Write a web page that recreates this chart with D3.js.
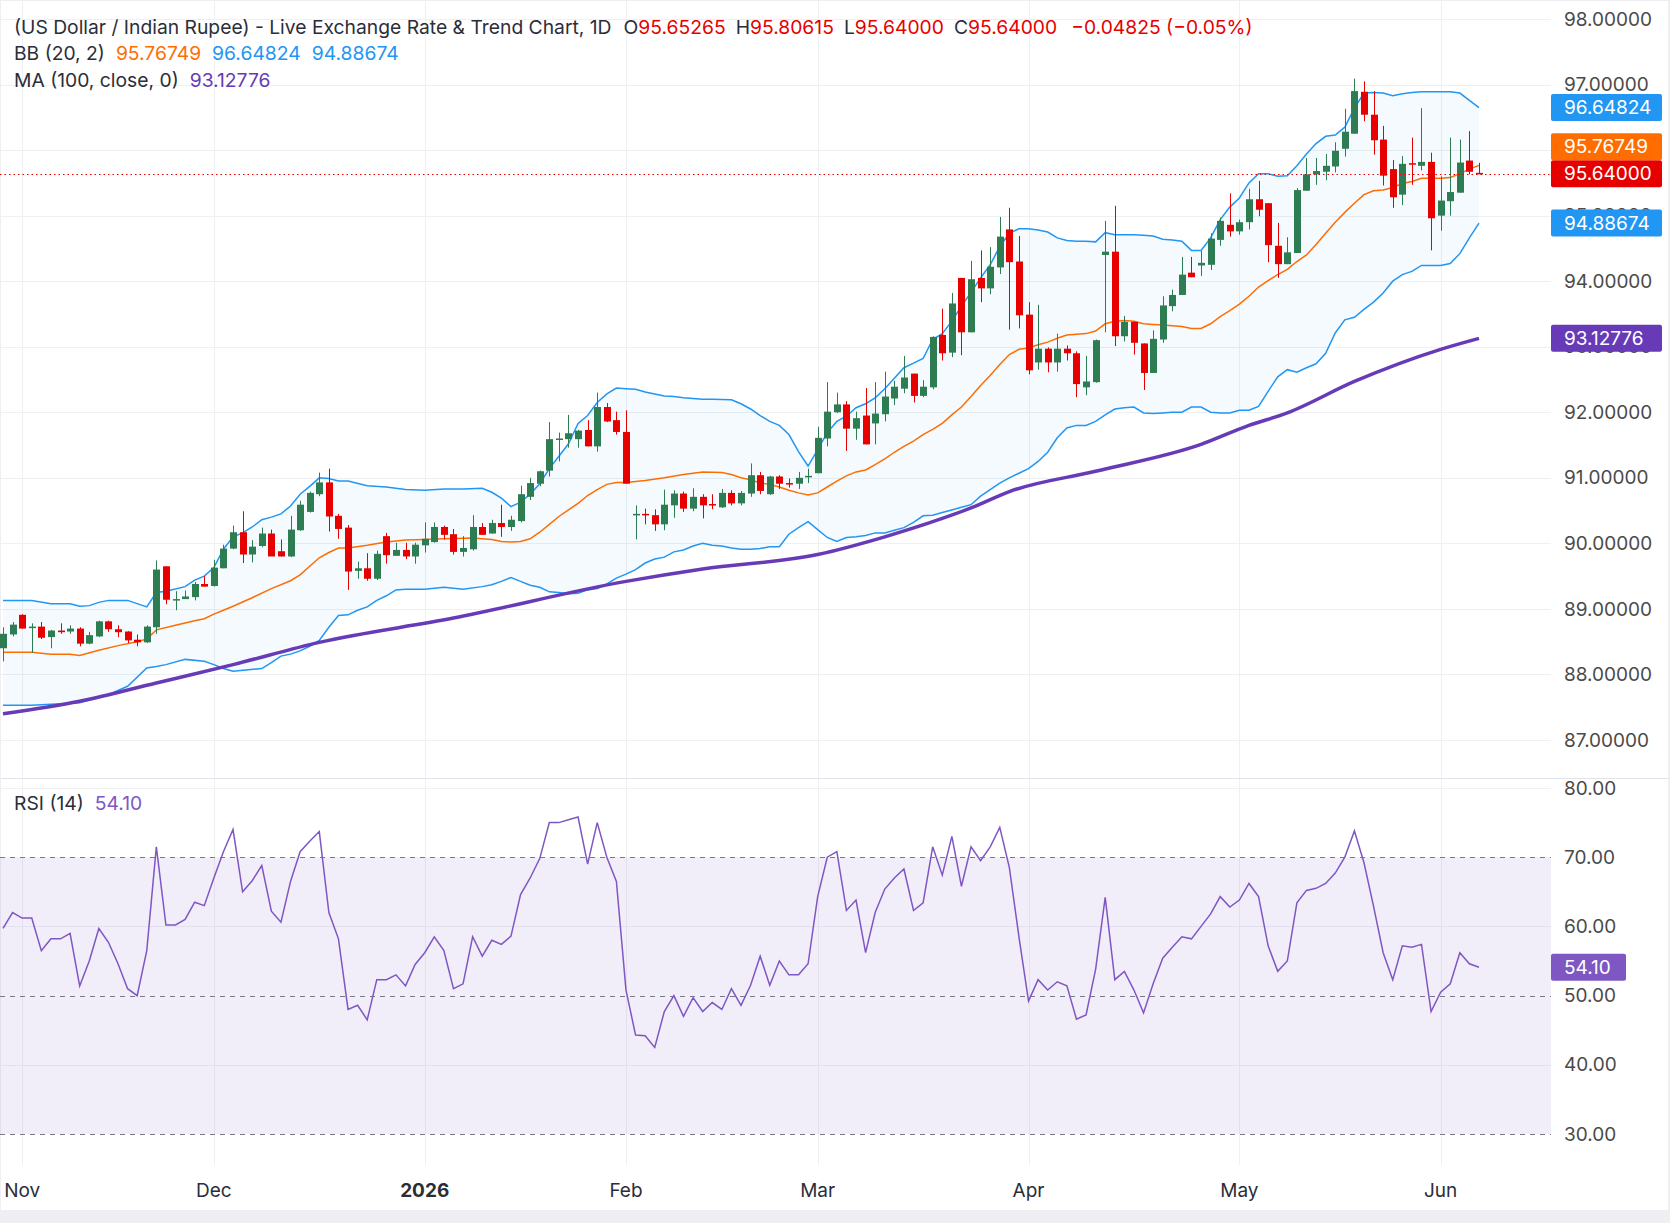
<!DOCTYPE html>
<html>
<head>
<meta charset="utf-8">
<script src="https://cdn.jsdelivr.net/npm/d3@7"></script>
<style>
  body { margin: 0; background: #eeeef3; }
  svg { display: block; font-family: Inter, "Noto Sans", sans-serif; }
</style>
</head>
<body>
<svg id="chart" width="1670" height="1223"></svg>
<script>
// ---- data ----
// daily candles, [open, high, low, close], Oct 30 2025 .. Jun 5 2026
const candles = [
  [88.40,88.72,88.20,88.62],[88.61,88.80,88.58,88.76],[88.91,88.92,88.70,88.70],[88.72,88.78,88.33,88.73],
  [88.73,88.80,88.54,88.56],[88.57,88.68,88.40,88.67],[88.67,88.78,88.62,88.645],[88.655,88.75,88.62,88.70],
  [88.70,88.72,88.43,88.47],[88.47,88.65,88.46,88.60],[88.58,88.82,88.57,88.81],[88.81,88.82,88.65,88.69],
  [88.69,88.75,88.57,88.645],[88.655,88.66,88.48,88.52],[88.53,88.61,88.43,88.49],[88.49,88.75,88.48,88.73],
  [88.72,89.74,88.62,89.60],[89.65,89.65,89.07,89.14],[89.14,89.27,88.98,89.15],[89.15,89.28,89.15,89.19],
  [89.18,89.41,89.13,89.38],[89.38,89.50,89.34,89.34],[89.35,89.75,89.34,89.63],[89.62,89.98,89.62,89.92],
  [89.92,90.27,89.91,90.17],[90.17,90.49,89.70,89.83],[89.83,90.05,89.71,89.95],[89.96,90.24,89.94,90.15],
  [90.15,90.21,89.81,89.80],[89.88,90.06,89.80,89.80],[89.80,90.42,89.79,90.21],[90.20,90.65,90.19,90.59],
  [90.48,90.79,90.47,90.77],[90.75,91.08,90.72,90.93],[90.93,91.14,90.18,90.41],[90.42,90.45,90.07,90.22],
  [90.24,90.28,89.29,89.57],[89.58,89.72,89.46,89.62],[89.62,89.85,89.43,89.46],[89.46,89.89,89.44,89.84],
  [90.11,90.16,89.69,89.82],[89.81,90.01,89.81,89.90],[89.90,90.01,89.76,89.80],[89.80,90.01,89.69,89.98],
  [89.97,90.32,89.86,90.07],[90.02,90.32,90.01,90.25],[90.25,90.27,90.06,90.13],[90.14,90.22,89.83,89.87],
  [89.87,90.11,89.80,89.93],[89.91,90.43,89.89,90.25],[90.25,90.31,90.13,90.13],[90.15,90.36,90.15,90.31],
  [90.31,90.59,90.10,90.25],[90.25,90.42,90.19,90.36],[90.34,90.88,90.32,90.75],[90.71,91.00,90.66,90.92],
  [90.91,91.11,90.87,91.10],[91.11,91.85,91.02,91.59],[91.59,91.69,91.25,91.60],[91.59,91.96,91.46,91.68],
  [91.59,91.73,91.46,91.72],[91.73,91.88,91.48,91.48],[91.48,92.30,91.40,92.08],[92.08,92.14,91.85,91.86],
  [91.88,92.01,91.66,91.70],[91.70,92.03,90.91,90.91],[90.44,90.58,90.06,90.45],[90.45,90.53,90.29,90.44],
  [90.43,90.52,90.19,90.29],[90.29,90.82,90.20,90.59],[90.58,90.81,90.39,90.76],[90.76,90.79,90.48,90.53],
  [90.53,90.84,90.49,90.71],[90.71,90.75,90.38,90.58],[90.60,90.75,90.52,90.58],[90.55,90.83,90.54,90.77],
  [90.77,90.81,90.58,90.61],[90.61,90.80,90.58,90.77],[90.76,91.22,90.71,91.04],[91.04,91.09,90.75,90.80],
  [90.75,91.03,90.74,91.02],[91.02,91.04,90.83,90.91],[90.92,90.99,90.85,90.91],[90.91,91.09,90.83,91.00],
  [91.02,91.14,90.92,91.03],[91.07,91.78,91.07,91.61],[91.60,92.46,91.48,92.01],[92.00,92.30,91.99,92.12],
  [92.12,92.17,91.41,91.75],[91.75,92.01,91.58,91.91],[91.95,92.37,91.51,91.51],[91.83,92.46,91.51,91.98],
  [91.97,92.62,91.86,92.24],[92.21,92.48,92.11,92.39],[92.36,92.86,92.29,92.53],[92.59,92.59,92.15,92.25],
  [92.25,92.49,92.23,92.39],[92.38,93.16,92.35,93.15],[93.18,93.58,92.79,92.90],[92.91,93.82,92.84,93.66],
  [94.05,94.05,92.87,93.22],[93.22,94.31,93.22,94.03],[94.05,94.47,93.68,93.89],[93.89,94.52,93.80,94.22],
  [94.21,94.98,94.11,94.68],[94.79,95.12,93.26,94.29],[94.30,94.69,93.28,93.48],[93.49,93.68,92.58,92.64],
  [92.76,93.64,92.65,92.97],[92.97,92.99,92.61,92.76],[92.76,93.20,92.62,92.97],[92.97,93.02,92.79,92.90],
  [92.90,92.93,92.23,92.43],[92.38,92.86,92.26,92.47],[92.46,93.11,92.45,93.10],[94.40,94.92,93.22,94.45],
  [94.45,95.15,93.01,93.16],[93.16,93.47,93.08,93.38],[93.38,93.38,92.88,93.06],[93.05,93.05,92.34,92.60],
  [92.60,93.25,92.60,93.12],[93.11,93.77,93.06,93.63],[93.62,93.87,93.54,93.79],[93.79,94.37,93.79,94.10],
  [94.13,94.37,94.06,94.06],[94.24,94.46,94.08,94.28],[94.25,94.73,94.17,94.65],[94.63,94.97,94.54,94.92],
  [94.86,95.34,94.68,94.76],[94.76,94.94,94.71,94.90],[94.90,95.41,94.79,95.25],[95.25,95.53,94.99,95.09],
  [95.19,95.19,94.29,94.55],[94.54,94.89,94.05,94.26],[94.26,94.67,94.26,94.44],[94.43,95.42,94.43,95.39],
  [95.38,95.88,95.38,95.63],[95.63,95.88,95.47,95.68],[95.67,95.94,95.54,95.76],[95.75,96.12,95.66,95.99],
  [96.02,96.63,95.90,96.28],[96.25,97.09,96.25,96.90],[96.89,97.05,96.44,96.54],[96.54,96.90,95.93,96.15],
  [96.16,96.37,95.46,95.61],[95.71,95.85,95.12,95.28],[95.32,95.91,95.16,95.79],[95.80,96.19,95.47,95.78],
  [95.76,96.64,95.69,95.82],[95.82,95.96,94.47,94.96],[95.00,95.60,94.77,95.23],[95.22,96.19,95.00,95.36],
  [95.35,96.16,95.35,95.81],[95.84,96.29,95.63,95.67],[95.65265,95.80615,95.64,95.64]
];

// Bollinger band lines, [bar, value]
const bbUpper = [
  [0,89.13],[3,89.13],[5,89.08],[7,89.08],[8,89.04],[9,89.05],[10,89.10],[11,89.13],[13,89.13],[14,89.08],
  [15,89.03],[16,89.25],[17,89.27],[19,89.34],[20,89.44],[21,89.50],[22,89.63],[23,89.91],[24,90.10],[25,90.16],
  [26,90.25],[27,90.36],[28,90.40],[29,90.45],[30,90.57],[31,90.75],[32,90.87],[33,91.00],[34,90.99],[35,90.95],
  [36,90.95],[38,90.88],[40,90.86],[42,90.82],[44,90.81],[46,90.83],[48,90.83],[50,90.84],[51,90.78],[52,90.69],
  [53,90.56],[54,90.63],[55,90.75],[56,90.91],[57,91.14],[58,91.33],[59,91.52],[60,91.83],[61,91.95],[62,92.15],
  [63,92.28],[64,92.37],[65,92.36],[66,92.35],[67,92.31],[68,92.28],[69,92.25],[70,92.24],[71,92.22],[72,92.21],
  [73,92.20],[74,92.20],[76,92.19],[77,92.13],[78,92.05],[79,91.95],[80,91.86],[81,91.80],[82,91.66],[83,91.40],
  [84,91.18],[85,91.43],[86,91.69],[87,91.86],[88,91.94],[89,92.07],[90,92.13],[91,92.22],[92,92.36],[93,92.52],
  [94,92.68],[95,92.75],[96,92.82],[97,93.11],[98,93.20],[99,93.39],[100,93.62],[101,93.83],[102,94.05],[103,94.25],
  [104,94.53],[105,94.73],[106,94.80],[107,94.80],[108,94.78],[109,94.75],[110,94.66],[111,94.62],[112,94.61],[113,94.61],
  [114,94.60],[115,94.74],[116,94.71],[117,94.71],[118,94.71],[119,94.70],[120,94.69],[121,94.64],[122,94.63],[123,94.61],
  [124,94.47],[125,94.47],[126,94.66],[127,94.94],[128,95.13],[129,95.27],[130,95.50],[131,95.64],[132,95.64],[133,95.60],
  [134,95.61],[135,95.76],[136,95.94],[137,96.10],[138,96.21],[139,96.23],[140,96.35],[141,96.64],[142,96.87],[143,96.88],
  [144,96.87],[145,96.83],[146,96.86],[147,96.88],[148,96.89],[149,96.89],[150,96.89],[151,96.89],[152,96.87],[153,96.76],
  [154,96.64824]
];
const bbMiddle = [
  [0,88.34],[3,88.34],[5,88.31],[7,88.31],[8,88.29],[10,88.37],[12,88.44],[14,88.50],[15,88.54],[16,88.68],
  [18,88.75],[20,88.82],[21,88.85],[22,88.92],[23,88.98],[24,89.04],[26,89.17],[28,89.31],[30,89.43],[31,89.52],
  [32,89.65],[33,89.78],[34,89.86],[35,89.93],[36,89.93],[38,89.97],[40,90.02],[42,90.05],[44,90.06],[46,90.07],
  [49,90.08],[51,90.06],[52,90.03],[53,90.02],[54,90.03],[55,90.07],[56,90.17],[57,90.29],[58,90.41],[59,90.51],
  [60,90.61],[61,90.73],[62,90.82],[63,90.90],[64,90.93],[65,90.93],[67,90.96],[69,91.00],[71,91.05],[73,91.09],
  [75,91.08],[76,91.05],[77,91.00],[78,90.97],[79,90.92],[80,90.90],[81,90.86],[82,90.81],[83,90.77],[84,90.74],
  [85,90.77],[86,90.86],[87,90.95],[88,91.03],[89,91.09],[90,91.12],[91,91.20],[92,91.29],[93,91.39],[94,91.48],
  [95,91.56],[96,91.66],[97,91.74],[98,91.83],[99,91.96],[100,92.08],[101,92.24],[102,92.41],[103,92.56],[104,92.73],
  [105,92.88],[106,92.96],[107,92.98],[108,93.03],[109,93.07],[110,93.13],[111,93.18],[112,93.19],[113,93.20],[114,93.24],
  [115,93.35],[116,93.39],[117,93.40],[118,93.39],[119,93.35],[120,93.34],[121,93.33],[122,93.32],[123,93.31],[124,93.28],
  [125,93.28],[126,93.35],[127,93.46],[128,93.55],[129,93.65],[130,93.77],[131,93.91],[132,94.01],[133,94.10],[134,94.18],
  [135,94.30],[136,94.40],[137,94.56],[138,94.73],[139,94.90],[140,95.05],[141,95.19],[142,95.32],[143,95.38],[144,95.39],
  [145,95.43],[146,95.49],[147,95.52],[148,95.57],[149,95.57],[150,95.57],[151,95.58],[152,95.64],[153,95.71],[154,95.76749]
];
const bbLower = [
  [0,87.53],[3,87.53],[8,87.57],[11,87.69],[13,87.82],[15,88.10],[16,88.12],[17,88.15],[19,88.23],[21,88.20],
  [22,88.15],[23,88.09],[24,88.05],[27,88.09],[28,88.18],[29,88.28],[30,88.31],[31,88.36],[32,88.43],[33,88.52],
  [34,88.72],[35,88.90],[36,88.91],[37,88.98],[38,89.03],[39,89.13],[40,89.20],[41,89.29],[42,89.30],[44,89.30],
  [46,89.33],[48,89.30],[50,89.34],[51,89.37],[52,89.42],[53,89.48],[54,89.42],[55,89.36],[56,89.33],[57,89.26],
  [58,89.25],[59,89.23],[60,89.24],[61,89.29],[62,89.31],[63,89.38],[64,89.47],[65,89.53],[66,89.60],[67,89.70],
  [68,89.76],[69,89.79],[70,89.87],[71,89.90],[72,89.96],[73,90.00],[74,89.97],[75,89.96],[76,89.93],[77,89.91],
  [78,89.91],[79,89.92],[80,89.95],[81,89.95],[82,90.14],[83,90.24],[84,90.33],[85,90.21],[86,90.09],[87,90.03],
  [88,90.09],[89,90.10],[90,90.12],[91,90.16],[92,90.16],[93,90.20],[94,90.24],[95,90.32],[96,90.42],[97,90.43],
  [98,90.47],[99,90.51],[100,90.55],[101,90.59],[102,90.72],[103,90.82],[104,90.92],[105,91.00],[106,91.07],[107,91.14],
  [108,91.25],[109,91.39],[110,91.61],[111,91.76],[112,91.80],[113,91.80],[114,91.86],[115,91.96],[116,92.05],[117,92.07],
  [118,92.08],[119,91.99],[120,91.98],[121,91.99],[122,92.00],[123,92.00],[124,92.08],[125,92.08],[126,92.00],[127,91.99],
  [128,91.99],[129,92.03],[130,92.03],[131,92.09],[132,92.32],[133,92.54],[134,92.65],[135,92.61],[136,92.68],[137,92.74],
  [138,92.90],[139,93.21],[140,93.41],[141,93.45],[142,93.57],[143,93.68],[144,93.82],[145,94.00],[146,94.10],[147,94.15],
  [148,94.24],[149,94.24],[150,94.24],[151,94.27],[152,94.42],[153,94.66],[154,94.88674]
];

// MA(100) line, [bar, value]
const ma100 = [
  [0,87.40],[8,87.59],[16,87.87],[24,88.15],[33,88.49],[47,88.86],[65,89.42],[73,89.61],[85,89.83],[92,90.10],
  [98,90.38],[101,90.54],[105,90.79],[114,91.10],[125,91.51],[130,91.80],[134,91.99],[141,92.47],[150,92.96],[154,93.12776]
];

// RSI(14), one value per bar
const rsi14 = [
  59.7,62,61.2,61.2,56.5,58.2,58.2,59,51.4,55,
  59.7,57.7,54.6,51,50,56.5,71.5,60.2,60.2,61,
  63.5,63,67,70.8,74,65,66.6,68.8,62.2,60.6,
  66.5,70.8,72.3,73.7,62,58.2,48,48.6,46.5,52.3,
  52.3,53,51.4,54.5,56.2,58.5,56.5,51,51.7,58.5,
  55.7,58,57.4,58.6,64.6,67,69.8,75,75,75.4,
  75.8,69,75,70,66.5,50.8,44.3,44.2,42.5,47.7,
  50,47,49.7,47.7,49,48,51,48.6,51.5,55.7,
  51.5,55,53,53,54.6,64.3,70,70.8,62.3,63.8,
  56.2,62,65.4,67,68.3,62.3,63.4,71.5,67.4,73,
  65.8,71.5,69.5,71.5,74.3,68.5,58.5,49.2,52.3,50.8,
  52,51.4,46.6,47.2,53.8,64.2,52.3,53.5,50.8,47.5,
  51.7,55.4,57,58.5,58.2,60,61.8,64.3,62.8,63.8,
  66.2,64.3,57.2,53.5,55,63.4,65.2,65.5,66.2,67.7,
  70,73.8,69.2,62.9,56.2,52.3,57.2,57,57.4,47.7,
  50.5,51.7,56.2,54.6,54.10
];

const priceTicks = d3.range(87, 99);
const rsiTicks = [30, 40, 50, 60, 70, 80];
const holidays = ['2025-12-25', '2026-01-01'];

// trading days (weekdays without the two holidays)
const fmtDay = d3.timeFormat('%Y-%m-%d');
const tradingDays = d3.timeDay.range(new Date(2025, 9, 30), new Date(2026, 5, 6))
  .filter(d => d.getDay() !== 0 && d.getDay() !== 6 && holidays.indexOf(fmtDay(d)) < 0);

// ---- layout ----
const plotRight = 1551;
const paneSplit = 778;
const gridBottom = 1165;

const svg = d3.select('#chart');
const red = '#e60000', green = '#2e7d52';
const blue = '#2196f3', orange = '#ff6d00', maPurple = '#673ab7', rsiPurple = '#7e57c2';
const textCol = '#2a2e39', gridCol = '#eef0f3';

svg.append('rect').attr('x', 1).attr('y', 1).attr('width', 1667).attr('height', 1209).attr('fill', '#fff');

const x = d3.scaleLinear().domain([0, candles.length - 1]).range([3, 1479]);
const yP = d3.scaleLinear().domain([87, 98]).range([740, 19]);
const yR = d3.scaleLinear().domain([30, 80]).range([1134, 788]);

// month ticks: first trading day of each month
const monthTicks = [];
tradingDays.forEach(function(d, i) {
  if (i > 0 && d.getMonth() !== tradingDays[i - 1].getMonth()) monthTicks.push(i);
});

// grid
const grid = svg.append('g');
grid.selectAll('line.v').data(monthTicks).enter().append('line')
  .attr('x1', d => Math.round(x(d)) + 0.5).attr('x2', d => Math.round(x(d)) + 0.5)
  .attr('y1', 1).attr('y2', gridBottom)
  .attr('stroke', gridCol);
grid.selectAll('line.hp').data(priceTicks).enter().append('line')
  .attr('x1', 0).attr('x2', plotRight)
  .attr('y1', d => Math.round(yP(d)) + 0.5).attr('y2', d => Math.round(yP(d)) + 0.5)
  .attr('stroke', gridCol);
grid.selectAll('line.hr').data([40, 60, 80]).enter().append('line')
  .attr('x1', 0).attr('x2', plotRight)
  .attr('y1', d => Math.round(yR(d)) + 0.5).attr('y2', d => Math.round(yR(d)) + 0.5)
  .attr('stroke', gridCol);

// pane separator
svg.append('line').attr('x1', 1).attr('x2', 1668).attr('y1', paneSplit + 0.5).attr('y2', paneSplit + 0.5)
  .attr('stroke', '#e0e3eb');

// price pane
svg.append('clipPath').attr('id', 'clipP').append('rect')
  .attr('x', 0).attr('y', 0).attr('width', plotRight).attr('height', paneSplit);
const pane = svg.append('g').attr('clip-path', 'url(#clipP)');

const line = d3.line().x(d => x(d[0])).y(d => yP(d[1]));
const fillPts = bbUpper.concat(bbLower.slice().reverse());
pane.append('path').attr('d', line(fillPts) + 'Z')
  .attr('fill', 'rgba(33,150,243,0.05)');

pane.append('path').attr('d', line(bbUpper)).attr('fill', 'none').attr('stroke', blue).attr('stroke-width', 1.5);
pane.append('path').attr('d', line(bbLower)).attr('fill', 'none').attr('stroke', blue).attr('stroke-width', 1.5);
pane.append('path').attr('d', line(bbMiddle)).attr('fill', 'none').attr('stroke', orange).attr('stroke-width', 1.5);
const maLine = d3.line().x(d => x(d[0])).y(d => yP(d[1])).curve(d3.curveMonotoneX);
pane.append('path').attr('d', maLine(ma100)).attr('fill', 'none')
  .attr('stroke', maPurple).attr('stroke-width', 3.5);

// candles
const cg = pane.append('g').selectAll('g').data(candles).enter().append('g')
  .attr('fill', d => d[3] >= d[0] ? green : red)
  .attr('stroke', d => d[3] >= d[0] ? green : red);
cg.append('line')
  .attr('x1', (d, i) => Math.round(x(i)) + 0.5).attr('x2', (d, i) => Math.round(x(i)) + 0.5)
  .attr('y1', d => yP(d[1])).attr('y2', d => yP(d[2]))
  .attr('stroke-width', 1);
cg.append('rect')
  .attr('stroke', 'none')
  .attr('x', (d, i) => Math.round(x(i)) - 3)
  .attr('width', 7)
  .attr('y', d => yP(Math.max(d[0], d[3])))
  .attr('height', d => Math.max(1.5, yP(Math.min(d[0], d[3])) - yP(Math.max(d[0], d[3]))));

// last price dotted line
const last = candles[candles.length - 1];
svg.append('line').attr('x1', 0).attr('x2', plotRight)
  .attr('y1', Math.round(yP(last[3])) + 0.5).attr('y2', Math.round(yP(last[3])) + 0.5)
  .attr('stroke', red).attr('stroke-width', 1.2).attr('stroke-dasharray', '1.5,3');

// rsi pane
svg.append('rect').attr('x', 0).attr('width', plotRight)
  .attr('y', yR(70)).attr('height', yR(30) - yR(70))
  .attr('fill', 'rgba(126,87,194,0.1)');
svg.selectAll('line.rd').data([70, 50, 30]).enter().append('line')
  .attr('x1', 0).attr('x2', plotRight)
  .attr('y1', d => Math.round(yR(d)) + 0.5).attr('y2', d => Math.round(yR(d)) + 0.5)
  .attr('stroke', '#787b86').attr('stroke-dasharray', '5,5');
svg.append('path')
  .attr('d', d3.line().x((d, i) => x(i)).y(d => yR(d))(rsi14))
  .attr('fill', 'none').attr('stroke', rsiPurple).attr('stroke-width', 1.5);

// right axis labels
const axisFont = 19;
svg.selectAll('text.pt').data(priceTicks).enter().append('text')
  .attr('x', 1564).attr('y', d => yP(d)).attr('dy', '0.35em')
  .attr('font-size', axisFont).attr('fill', '#4a4a4a')
  .text(d3.format('.5f'));
svg.selectAll('text.rt').data(rsiTicks).enter().append('text')
  .attr('x', 1564).attr('y', d => yR(d)).attr('dy', '0.35em')
  .attr('font-size', axisFont).attr('fill', '#4a4a4a')
  .text(d3.format('.2f'));

// value tags with simple collision handling (last price stays put)
const tagH = 27;
const tags = [
  { v: last[3], color: red },
  { v: bbUpper[bbUpper.length - 1][1], color: blue },
  { v: bbMiddle[bbMiddle.length - 1][1], color: orange },
  { v: bbLower[bbLower.length - 1][1], color: blue },
  { v: ma100[ma100.length - 1][1], color: maPurple }
];
const placed = [];
tags.forEach(function(t) {
  t.y = yP(t.v);
  t.text = d3.format('.5f')(t.v);
  placed.forEach(function(p) {
    if (Math.abs(t.y - p.y) < tagH) t.y = t.y < p.y ? p.y - tagH : p.y + tagH;
  });
  placed.push(t);
});
tags.push({ y: yR(rsi14[rsi14.length - 1]), color: rsiPurple, text: d3.format('.2f')(rsi14[rsi14.length - 1]), w: 75 });
const tg = svg.selectAll('g.tag').data(tags).enter().append('g');
tg.append('rect')
  .attr('x', plotRight).attr('y', d => d.y - tagH / 2)
  .attr('width', d => d.w || 111).attr('height', tagH).attr('rx', 2)
  .attr('fill', d => d.color);
tg.append('text')
  .attr('x', 1564).attr('y', d => d.y).attr('dy', '0.35em')
  .attr('font-size', axisFont).attr('fill', '#fff')
  .text(d => d.text);

// time axis labels
const xl = svg.selectAll('text.xl').data(monthTicks).enter().append('text')
  .attr('y', 1190).attr('dy', '0.35em')
  .attr('font-size', 19).attr('fill', textCol)
  .attr('font-weight', d => tradingDays[d].getMonth() === 0 ? 700 : 400)
  .text(d => tradingDays[d].getMonth() === 0 ? d3.timeFormat('%Y')(tradingDays[d]) : d3.timeFormat('%b')(tradingDays[d]));
xl.each(function(d) {
  const w = this.getComputedTextLength();
  d3.select(this).attr('x', Math.max(3, x(d) - w / 2));
});

// legend rows: parts are [gap before, text, colour]
function legendRow(y, parts) {
  const t = svg.append('text').attr('x', 14).attr('y', y).attr('dy', '0.35em')
    .attr('font-size', 19.3).attr('fill', textCol);
  parts.forEach(function(p) {
    t.append('tspan').attr('dx', p[0]).attr('fill', p[2] || textCol).text(p[1]);
  });
}
legendRow(27, [
  [0, '(US Dollar / Indian Rupee) - Live Exchange Rate & Trend Chart, 1D'],
  [12, 'O'], [0, '95.65265', red],
  [10, 'H'], [0, '95.80615', red],
  [10, 'L'], [0, '95.64000', red],
  [10, 'C'], [0, '95.64000', red],
  [14, '\u22120.04825 (\u22120.05%)', red]
]);
legendRow(53, [[0, 'BB (20, 2)'], [11, '95.76749', orange], [11, '96.64824', blue], [11, '94.88674', blue]]);
legendRow(80, [[0, 'MA (100, close, 0)'], [11, '93.12776', maPurple]]);
legendRow(803, [[0, 'RSI (14)'], [11, '54.10', rsiPurple]]);
</script>
</body>
</html>
